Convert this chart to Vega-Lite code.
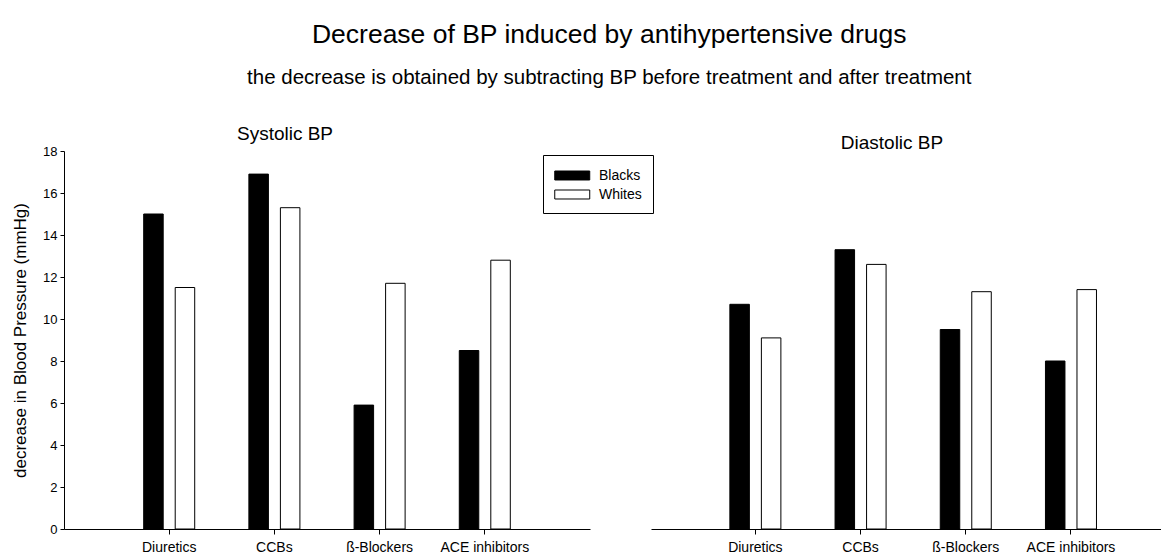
{
  "$schema": "https://vega.github.io/schema/vega-lite/v6.json",
  "padding": {"left": 11, "top": 22, "right": 0, "bottom": 0},
  "background": "white",
  "title": {
    "text": "Decrease of BP induced by antihypertensive drugs",
    "subtitle": "the decrease is obtained by subtracting BP before treatment and after treatment",
    "anchor": "middle",
    "dx": 23,
    "font": "Liberation Sans",
    "fontSize": 26.5,
    "fontWeight": "normal",
    "color": "black",
    "subtitleFont": "Liberation Sans",
    "subtitleFontSize": 20.5,
    "subtitleColor": "black",
    "subtitlePadding": 19,
    "offset": 37
  },
  "config": {
    "view": {"stroke": null},
    "font": "Liberation Sans",
    "axis": {
      "domainColor": "black",
      "domainWidth": 1,
      "tickColor": "black",
      "tickWidth": 1,
      "labelColor": "black",
      "titleColor": "black",
      "grid": false,
      "labelFont": "Liberation Sans",
      "titleFont": "Liberation Sans",
      "titleFontWeight": "normal"
    }
  },
  "data": {
    "values": [
      {"measure": "Systolic", "drug": "Diuretics", "race": "Blacks", "value": 15.0},
      {"measure": "Systolic", "drug": "Diuretics", "race": "Whites", "value": 11.5},
      {"measure": "Systolic", "drug": "CCBs", "race": "Blacks", "value": 16.9},
      {"measure": "Systolic", "drug": "CCBs", "race": "Whites", "value": 15.3},
      {"measure": "Systolic", "drug": "ß-Blockers", "race": "Blacks", "value": 5.9},
      {"measure": "Systolic", "drug": "ß-Blockers", "race": "Whites", "value": 11.7},
      {"measure": "Systolic", "drug": "ACE inhibitors", "race": "Blacks", "value": 8.5},
      {"measure": "Systolic", "drug": "ACE inhibitors", "race": "Whites", "value": 12.8},
      {"measure": "Diastolic", "drug": "Diuretics", "race": "Blacks", "value": 10.7},
      {"measure": "Diastolic", "drug": "Diuretics", "race": "Whites", "value": 9.1},
      {"measure": "Diastolic", "drug": "CCBs", "race": "Blacks", "value": 13.3},
      {"measure": "Diastolic", "drug": "CCBs", "race": "Whites", "value": 12.6},
      {"measure": "Diastolic", "drug": "ß-Blockers", "race": "Blacks", "value": 9.5},
      {"measure": "Diastolic", "drug": "ß-Blockers", "race": "Whites", "value": 11.3},
      {"measure": "Diastolic", "drug": "ACE inhibitors", "race": "Blacks", "value": 8.0},
      {"measure": "Diastolic", "drug": "ACE inhibitors", "race": "Whites", "value": 11.4}
    ]
  },
  "spacing": 61,
  "resolve": {"legend": {"color": "independent"}, "scale": {"x": "independent", "color": "independent"}},
  "hconcat": [
    {
      "width": 526,
      "height": 378,
      "title": {"text": "Systolic BP", "fontSize": 19, "fontWeight": "normal", "color": "black", "anchor": "middle", "dx": -42, "offset": -14, "baseline": "alphabetic"},
      "transform": [{"filter": "datum.measure === 'Systolic'"}],
      "mark": {"type": "bar", "stroke": "black", "strokeWidth": 1},
      "encoding": {
        "x": {
          "field": "drug", "type": "nominal",
          "sort": ["Diuretics", "CCBs", "ß-Blockers", "ACE inhibitors"],
          "scale": {"paddingInner": 0.515, "paddingOuter": 0.7575, "align": 0.5},
          "axis": {"title": null, "labelAngle": 0, "labelFontSize": 14, "tickSize": 5, "labelPadding": 6}
        },
        "xOffset": {
          "field": "race", "type": "nominal",
          "scale": {"paddingInner": 0.381, "paddingOuter": 0}
        },
        "y": {
          "field": "value", "type": "quantitative",
          "scale": {"domain": [0, 18], "nice": false},
          "axis": {"title": "decrease in Blood Pressure (mmHg)", "values": [0, 2, 4, 6, 8, 10, 12, 14, 16, 18], "labelFontSize": 13, "tickSize": 4, "labelPadding": 3, "titleFontSize": 17, "titlePadding": 13}
        },
        "fill": {
          "field": "race", "type": "nominal",
          "scale": {"domain": ["Blacks", "Whites"], "range": ["black", "white"]},
          "legend": {
            "title": null,
            "orient": "none",
            "legendX": 479,
            "legendY": 4,
            "direction": "vertical",
            "strokeColor": "black",
            "fillColor": "white",
            "padding": 11,
            "rowPadding": 2,
            "symbolType": "M-1,-0.514L3,-0.514L3,0.514L-1,0.514Z",
            "symbolSize": 306,
            "symbolStrokeColor": "black",
            "symbolStrokeWidth": 1,
            "labelFontSize": 14,
            "labelColor": "black",
            "labelOffset": 26
          }
        }
      }
    },
    {
      "width": 510,
      "height": 378,
      "title": {"text": "Diastolic BP", "fontSize": 19, "fontWeight": "normal", "color": "black", "anchor": "middle", "dx": -14, "offset": -17, "baseline": "alphabetic"},
      "transform": [{"filter": "datum.measure === 'Diastolic'"}],
      "mark": {"type": "bar", "stroke": "black", "strokeWidth": 1},
      "encoding": {
        "x": {
          "field": "drug", "type": "nominal",
          "sort": ["Diuretics", "CCBs", "ß-Blockers", "ACE inhibitors"],
          "scale": {"paddingInner": 0.515, "paddingOuter": 0.6815, "align": 0.55},
          "axis": {"title": null, "labelAngle": 0, "labelFontSize": 14, "tickSize": 5, "labelPadding": 6}
        },
        "xOffset": {
          "field": "race", "type": "nominal",
          "scale": {"paddingInner": 0.381, "paddingOuter": 0}
        },
        "y": {
          "field": "value", "type": "quantitative",
          "scale": {"domain": [0, 18], "nice": false},
          "axis": null
        },
        "fill": {
          "field": "race", "type": "nominal",
          "scale": {"domain": ["Blacks", "Whites"], "range": ["black", "white"]},
          "legend": null
        }
      }
    }
  ]
}
